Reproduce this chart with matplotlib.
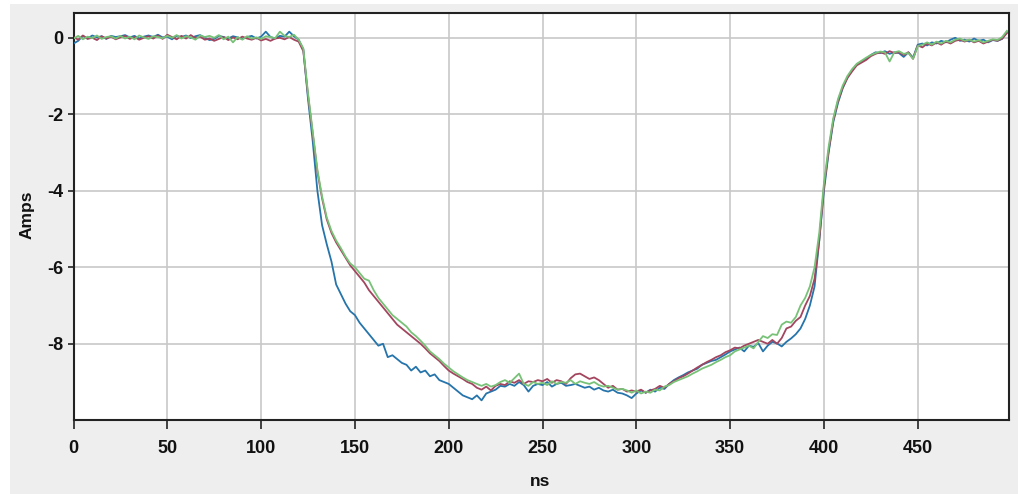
import numpy as np
import matplotlib
matplotlib.use("Agg")
import matplotlib.pyplot as plt
from matplotlib.patches import Rectangle

# time axis (ns), 2.5 ns sampling
time_ns = np.arange(200) * 2.5

blue_amps = [
    -0.15, -0.08, 0.05, -0.02, 0.06, 0.01, 0.04, -0.03, 0.05, 0.02,
    0.04, 0.07, 0.01, 0.05, -0.02, 0.03, 0.06, 0.02, 0.08, 0.01,
    0.03, -0.04, 0.05, 0.02, 0.06, -0.01, 0.04, 0.07, 0.00, -0.06,
    -0.03, 0.05, 0.02, -0.02, 0.04, 0.01, -0.03, 0.02, 0.05, -0.02,
    0.03, 0.16, 0.02, -0.02, 0.05, 0.03, 0.16, 0.04, -0.05, -0.30,
    -1.6, -2.7, -4.0, -4.9, -5.4, -5.85, -6.45, -6.7, -6.95, -7.15,
    -7.25, -7.45, -7.6, -7.75, -7.9, -8.05, -8.0, -8.35, -8.3, -8.4,
    -8.5, -8.55, -8.7, -8.6, -8.75, -8.7, -8.85, -8.8, -8.95, -9.0,
    -9.05, -9.15, -9.25, -9.35, -9.4, -9.45, -9.35, -9.48, -9.3, -9.25,
    -9.2, -9.1, -9.12, -9.05, -9.1, -9.0, -9.08, -9.25, -9.1, -9.05,
    -9.08, -9.0, -9.12, -9.05, -9.02, -9.1, -9.08, -9.05, -9.1, -9.15,
    -9.12, -9.2, -9.15, -9.22, -9.25, -9.2, -9.28, -9.3, -9.35, -9.42,
    -9.3, -9.22, -9.28, -9.2, -9.25, -9.15, -9.18, -9.05, -8.95, -8.88,
    -8.82, -8.75, -8.7, -8.65, -8.55, -8.5, -8.45, -8.42, -8.35, -8.28,
    -8.2, -8.15, -8.1, -8.2, -8.05, -8.08, -7.98, -8.2, -8.05, -7.95,
    -7.99, -8.07, -7.95, -7.86, -7.75, -7.6, -7.35, -7.0, -6.5, -5.3,
    -4.0, -3.0, -2.2, -1.7, -1.32, -1.05, -0.85, -0.7, -0.62, -0.55,
    -0.45, -0.38, -0.4, -0.35, -0.42, -0.38, -0.4, -0.5, -0.38, -0.52,
    -0.18, -0.15, -0.2, -0.12, -0.15, -0.08, -0.12, -0.05, 0.0, -0.08,
    -0.05, -0.1, -0.02, -0.08, -0.05, -0.12, -0.06, -0.08, -0.03, 0.15,
]

red_amps = [
    0.02, -0.05, 0.06, -0.03, 0.00, -0.06, 0.04, -0.02, 0.03, -0.04,
    0.01, 0.05, -0.03, 0.02, -0.05, 0.00, 0.04, -0.02, 0.06, -0.03,
    0.08, 0.02, -0.04, 0.05, -0.02, 0.07, -0.01, 0.03, -0.05, -0.02,
    -0.08, -0.03, 0.02, -0.06, 0.01, -0.04, 0.03, -0.02, -0.05, 0.00,
    -0.07, -0.03, -0.08, -0.02, 0.00, -0.04, 0.02, -0.05, -0.10, -0.35,
    -1.5, -2.5, -3.5, -4.2, -4.75, -5.1, -5.35, -5.55, -5.75, -5.95,
    -6.1, -6.25, -6.4, -6.6, -6.75, -6.9, -7.05, -7.2, -7.35, -7.5,
    -7.6, -7.7, -7.8, -7.9, -8.0, -8.12, -8.25, -8.35, -8.45, -8.58,
    -8.7, -8.78, -8.85, -8.92, -9.0, -9.05, -9.15, -9.2, -9.12, -9.22,
    -9.1, -9.05, -9.08, -8.98, -9.02, -8.95, -9.05, -8.98, -9.0, -8.95,
    -8.98, -8.92, -9.02, -8.95, -8.98, -9.05, -8.9, -8.8, -8.78, -8.85,
    -8.92, -8.88, -8.95, -9.05, -9.15, -9.1, -9.2, -9.18, -9.25, -9.22,
    -9.25, -9.2, -9.28, -9.22, -9.18, -9.1, -9.15, -9.05, -8.98, -8.9,
    -8.85, -8.78, -8.7, -8.62, -8.55, -8.48, -8.42, -8.35, -8.3, -8.22,
    -8.17, -8.1, -8.12, -8.05, -8.0, -7.95, -7.9, -7.95, -8.0, -7.9,
    -8.0, -7.85, -7.6, -7.55, -7.4, -7.3, -7.0, -6.75, -6.3, -5.3,
    -3.9, -2.95, -2.15, -1.65, -1.3, -1.05, -0.88, -0.72, -0.65, -0.58,
    -0.48, -0.42, -0.38, -0.42, -0.35, -0.4, -0.38, -0.45, -0.38, -0.55,
    -0.2, -0.25, -0.15, -0.2, -0.12, -0.18, -0.1, -0.15, -0.08, -0.05,
    -0.1, -0.05, -0.12, -0.08, -0.15, -0.1, -0.05, -0.08, -0.02, 0.12,
]

green_amps = [
    -0.02, 0.05, -0.04, 0.03, -0.01, 0.06, -0.03, 0.02, 0.04, -0.02,
    0.05, -0.02, 0.03, -0.04, 0.06, 0.01, -0.03, 0.04, 0.02, -0.01,
    0.05, 0.00, 0.07, -0.02, 0.04, 0.01, -0.05, 0.06, 0.02, 0.05,
    0.00, 0.07, -0.04, 0.03, -0.12, 0.02, -0.05, 0.04, -0.02, 0.01,
    -0.03, 0.04, 0.02, -0.01, 0.16, 0.05, 0.02, 0.08, -0.05, -0.28,
    -1.45, -2.45, -3.45, -4.15, -4.7, -5.05, -5.3, -5.5, -5.72, -5.9,
    -6.0, -6.15, -6.3, -6.35, -6.6, -6.8, -6.95, -7.1, -7.25, -7.35,
    -7.45, -7.55, -7.7, -7.8, -7.92, -8.05, -8.2, -8.3, -8.4, -8.52,
    -8.62, -8.72, -8.8, -8.88, -8.95, -9.0, -9.05, -9.1, -9.05, -9.12,
    -9.08, -9.0, -8.95, -9.02, -8.9, -8.78, -9.05, -9.1, -9.0, -9.05,
    -9.02, -9.08, -8.98, -9.05, -9.0, -9.02, -8.95, -9.05, -8.98, -9.02,
    -9.05, -9.0, -9.08, -9.12, -9.1, -9.15, -9.2, -9.18, -9.22, -9.28,
    -9.22, -9.3, -9.25, -9.28, -9.2, -9.22, -9.12, -9.08, -9.0, -8.95,
    -8.9, -8.85, -8.78, -8.72, -8.65, -8.6, -8.55, -8.48, -8.42, -8.35,
    -8.3, -8.2, -8.15, -8.1, -8.05, -8.12, -7.95, -7.8, -7.85, -7.75,
    -7.77, -7.5, -7.42, -7.45, -7.3, -7.0, -6.8, -6.5, -6.0, -5.1,
    -3.8, -2.85, -2.1, -1.6, -1.25, -1.0, -0.82, -0.68, -0.6, -0.52,
    -0.45, -0.4, -0.36, -0.38, -0.62, -0.38, -0.35, -0.42, -0.4, -0.55,
    -0.22, -0.18, -0.12, -0.18, -0.1, -0.15, -0.08, -0.12, -0.05, -0.02,
    -0.08, -0.05, -0.1, -0.06, -0.12, -0.08, -0.04, -0.06, 0.02, 0.18,
]

x_ticks = [0, 50, 100, 150, 200, 250, 300, 350, 400, 450]
y_ticks = [0, -2, -4, -6, -8]
x_label = "ns"
y_label = "Amps"

plt.rcParams['font.family'] = ['Liberation Sans', 'DejaVu Sans']

W, H = 1018, 494
fig = plt.figure(figsize=(W / 100, H / 100), dpi=100, facecolor='white')
fig.patches.append(Rectangle((10 / W, 0), 1, 1 - 4 / H, transform=fig.transFigure,
                             facecolor='#eeeeee', edgecolor='none', zorder=-10))

ax = fig.add_axes([73.5 / W, 1 - 419.5 / H, (1009.3 - 73.5) / W, (419.5 - 13.3) / H])
ax.set_facecolor('white')

ax.plot(time_ns, blue_amps, color='#2574ab', lw=1.3, zorder=3)
ax.plot(time_ns, red_amps, color='#a3455f', lw=1.3, zorder=4)
ax.plot(time_ns, green_amps, color='#78c278', lw=1.3, zorder=5)

ax.set_xlim(0, 498.8)
ax.set_ylim(-9.98, 0.64)
ax.set_xticks(x_ticks)
ax.set_yticks(y_ticks)
ax.set_xticklabels([str(v) for v in x_ticks])
ax.set_yticklabels([str(v) for v in y_ticks])

ax.grid(True, color='#c8c8c8', lw=1.2, zorder=0)
ax.set_axisbelow(True)
for s in ax.spines.values():
    s.set_color('#222222')
    s.set_linewidth(1.5)

ax.tick_params(axis='x', length=6.5, width=1.2, color='#222222', pad=8,
               labelsize=13)
ax.tick_params(axis='y', length=4.5, width=1.2, color='#222222', pad=3,
               labelsize=13)
for lbl in ax.get_xticklabels() + ax.get_yticklabels():
    lbl.set_fontweight('bold')
    lbl.set_color('#111111')

fig.text(540 / W, 1 - 481 / H, x_label, ha='center', va='center',
         fontsize=12.5, fontweight='bold', color='#111111')
fig.text(27 / W, 1 - 215 / H, y_label, ha='center', va='center', rotation=90,
         fontsize=12.5, fontweight='bold', color='#111111')

fig.savefig('out.png', dpi=100, facecolor=fig.get_facecolor())
